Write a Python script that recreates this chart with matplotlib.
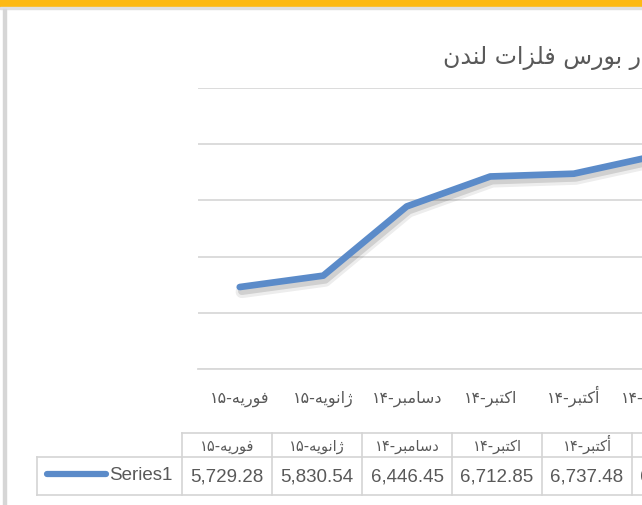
import re
import matplotlib
matplotlib.use('Agg')
import matplotlib.pyplot as plt
import matplotlib.patheffects as pe
import matplotlib.transforms as mtransforms
from matplotlib.patches import Rectangle
from matplotlib.lines import Line2D

# ---- data
title = 'قیمت مس در بورس فلزات لندن'
categories = ['فوریه-۱۵', 'ژانویه-۱۵', 'دسامبر-۱۴', 'اکتبر-۱۴', 'أکتبر-۱۴', 'سپتامبر-۱۴']
values = [5729.28, 5830.54, 6446.45, 6712.85, 6737.48, 6900.00]
series_name = 'Series1'
y_ticks = [5000, 5500, 6000, 6500, 7000, 7500]

# ---- persian shaping (matplotlib has no arabic text layout)
# isolated, final, initial, medial
FORMS = {
    'ا': ('\uFE8D', '\uFE8E', None, None),
    'أ': ('\uFE83', '\uFE84', None, None),
    'ب': ('\uFE8F', '\uFE90', '\uFE91', '\uFE92'),
    'پ': ('\uFB56', '\uFB57', '\uFB58', '\uFB59'),
    'ت': ('\uFE95', '\uFE96', '\uFE97', '\uFE98'),
    'د': ('\uFEA9', '\uFEAA', None, None),
    'ر': ('\uFEAD', '\uFEAE', None, None),
    'ز': ('\uFEAF', '\uFEB0', None, None),
    'ژ': ('\uFB8A', '\uFB8B', None, None),
    'س': ('\uFEB1', '\uFEB2', '\uFEB3', '\uFEB4'),
    'ف': ('\uFED1', '\uFED2', '\uFED3', '\uFED4'),
    'ق': ('\uFED5', '\uFED6', '\uFED7', '\uFED8'),
    'ک': ('\uFB8E', '\uFB8F', '\uFB90', '\uFB91'),
    'ل': ('\uFEDD', '\uFEDE', '\uFEDF', '\uFEE0'),
    'م': ('\uFEE1', '\uFEE2', '\uFEE3', '\uFEE4'),
    'ن': ('\uFEE5', '\uFEE6', '\uFEE7', '\uFEE8'),
    'ه': ('\uFEE9', '\uFEEA', '\uFEEB', '\uFEEC'),
    'و': ('\uFEED', '\uFEEE', None, None),
    'ی': ('\uFBFC', '\uFBFD', '\uFBFE', '\uFBFF'),
}


def shape(txt):
    out = []
    for i, ch in enumerate(txt):
        if ch not in FORMS:
            out.append(ch)
            continue
        prev = txt[i - 1] if i > 0 else ''
        nxt = txt[i + 1] if i + 1 < len(txt) else ''
        join_prev = prev in FORMS and FORMS[prev][2] is not None
        join_next = FORMS[ch][2] is not None and nxt in FORMS
        iso, fin, ini, med = FORMS[ch]
        if join_prev and join_next:
            out.append(med)
        elif join_prev:
            out.append(fin)
        elif join_next:
            out.append(ini)
        else:
            out.append(iso)
    return ''.join(out)


def rtl(txt):
    # visual order: everything reversed except runs of digits
    parts = re.findall(r'[0-9\u06F0-\u06F9]+|.', shape(txt))
    return ''.join(parts[::-1])


W, H = 642, 506
fig = plt.figure(figsize=(W / 100, H / 100), dpi=100)


def fx(x):
    return x / W


def fy(y):
    return 1 - y / H


txt_col = '#595959'
grid_col = '#d9d9d9'
line_col = '#5b8bc9'

# frame bits of the screenshot
fig.patches.append(Rectangle((0, fy(8)), 1, 8 / H, transform=fig.transFigure,
                             color='#fdb913', zorder=0))
fig.patches.append(Rectangle((0, fy(10)), 1, 2 / H, transform=fig.transFigure,
                             color='#e0e0e0', zorder=0))
fig.patches.append(Rectangle((fx(3), 0), 3 / W, fy(10), transform=fig.transFigure,
                             color='#d6d6d6', zorder=0))

# plot area, runs past the right edge
step = 83.5
left = 198
ax = fig.add_axes([fx(left), fy(370), len(categories) * step / W, (370 - 89) / H])
x = list(range(len(categories)))
ax.plot(x, values, color=line_col, lw=4.8, solid_capstyle='round', solid_joinstyle='round',
        path_effects=[pe.SimpleLineShadow(offset=(1.5, -3.5), shadow_color='#000000',
                                          alpha=0.07, linewidth=9),
                      pe.SimpleLineShadow(offset=(1.5, -3), shadow_color='#000000',
                                          alpha=0.12, linewidth=5.5),
                      pe.Normal()], zorder=3)
ax.set_xlim(-0.5, len(categories) - 0.5)
ax.set_ylim(y_ticks[0], y_ticks[-1])
ax.set_yticks(y_ticks)
ax.yaxis.grid(True, color=grid_col, lw=1.3)
ax.set_axisbelow(True)
ax.tick_params(left=False, bottom=False, labelleft=False, labelbottom=False)
ax.set_xticks(x)
for s in ax.spines.values():
    s.set_visible(False)
ax.spines['bottom'].set_visible(True)
ax.spines['bottom'].set_color(grid_col)
ax.spines['bottom'].set_linewidth(1.3)

# category labels on a common baseline
lab_tr = mtransforms.blended_transform_factory(ax.transData, fig.transFigure)
for xi, c in zip(x, categories):
    ax.text(xi, fy(403), rtl(c), transform=lab_tr, ha='center', va='baseline',
            fontsize=11.5, color=txt_col, family='DejaVu Sans', clip_on=False)

fig.text(fx(443), fy(58), rtl(title), ha='left', va='center', fontsize=17,
         color=txt_col, family='DejaVu Sans')

# data table under the chart
col_left = 182
col_w = 90
top, mid, bot = 434, 458, 496
border = '#d4d4d4'


def hline(x0, x1, y):
    fig.lines.append(Line2D([fx(x0), fx(x1)], [fy(y), fy(y)], transform=fig.transFigure,
                            color=border, lw=1.2))


def vline(xp, y0, y1):
    fig.lines.append(Line2D([fx(xp), fx(xp)], [fy(y0), fy(y1)], transform=fig.transFigure,
                            color=border, lw=1.2))


right = col_left + col_w * len(categories)
hline(col_left, right, top)
hline(37, right, mid)
hline(37, right, bot)
vline(37, mid, bot)
for i in range(len(categories) + 1):
    vline(col_left + i * col_w, top, bot)

for i, (c, v) in enumerate(zip(categories, values)):
    cx = col_left + (i + 0.5) * col_w
    fig.text(fx(cx), fy(451), rtl(c), ha='center', va='baseline',
             fontsize=10.5, color=txt_col, family='DejaVu Sans')
    fig.text(fx(cx), fy((mid + bot) / 2), f'{v:,.2f}', ha='center', va='center',
             fontsize=13.5, color=txt_col, family='Liberation Sans')

fig.lines.append(Line2D([fx(47), fx(106)], [fy(475), fy(475)], transform=fig.transFigure,
                        color=line_col, lw=4.5, solid_capstyle='round'))
fig.text(fx(172), fy(476), series_name, ha='right', va='center', fontsize=13.5,
         color=txt_col, family='Liberation Sans')

fig.savefig('out.png', dpi=100)
